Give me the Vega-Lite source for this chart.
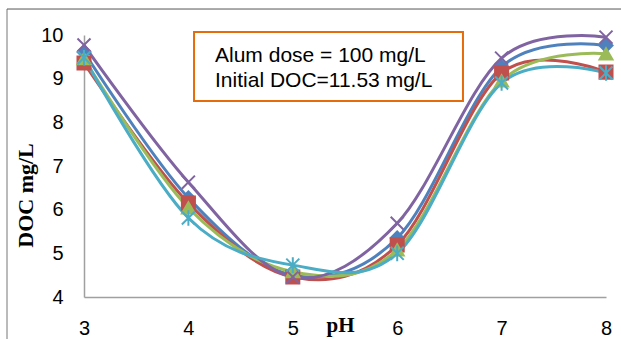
{
  "$schema": "https://vega.github.io/schema/vega-lite/v6.json",
  "width": 522,
  "height": 262,
  "autosize": {"type": "none"},
  "padding": {"left": 84, "top": 35, "right": 15, "bottom": 42},
  "background": "white",
  "config": {"view": {"stroke": null}, "font": "Liberation Sans"},
  "datasets": {
    "doc": [
      {"series": "Series1", "pH": 3, "doc": 9.61},
      {"series": "Series1", "pH": 4, "doc": 6.27},
      {"series": "Series1", "pH": 5, "doc": 4.50},
      {"series": "Series1", "pH": 6, "doc": 5.35},
      {"series": "Series1", "pH": 7, "doc": 9.27},
      {"series": "Series1", "pH": 8, "doc": 9.76},
      {"series": "Series2", "pH": 3, "doc": 9.36},
      {"series": "Series2", "pH": 4, "doc": 6.15},
      {"series": "Series2", "pH": 5, "doc": 4.46},
      {"series": "Series2", "pH": 6, "doc": 5.19},
      {"series": "Series2", "pH": 7, "doc": 9.13},
      {"series": "Series2", "pH": 8, "doc": 9.15},
      {"series": "Series3", "pH": 3, "doc": 9.46},
      {"series": "Series3", "pH": 4, "doc": 6.04},
      {"series": "Series3", "pH": 5, "doc": 4.58},
      {"series": "Series3", "pH": 6, "doc": 5.08},
      {"series": "Series3", "pH": 7, "doc": 8.95},
      {"series": "Series3", "pH": 8, "doc": 9.57},
      {"series": "Series4", "pH": 3, "doc": 9.77},
      {"series": "Series4", "pH": 4, "doc": 6.63},
      {"series": "Series4", "pH": 5, "doc": 4.46},
      {"series": "Series4", "pH": 6, "doc": 5.69},
      {"series": "Series4", "pH": 7, "doc": 9.47},
      {"series": "Series4", "pH": 8, "doc": 9.95},
      {"series": "Series5", "pH": 3, "doc": 9.48},
      {"series": "Series5", "pH": 4, "doc": 5.81},
      {"series": "Series5", "pH": 5, "doc": 4.73},
      {"series": "Series5", "pH": 6, "doc": 5.00},
      {"series": "Series5", "pH": 7, "doc": 8.90},
      {"series": "Series5", "pH": 8, "doc": 9.13}
    ],
    "box": [
      {"x1": 4.054, "x2": 6.63, "y1": 10.07, "y2": 8.49}
    ],
    "notes": [
      {"x": 4.255, "y": 9.38, "label": "Alum dose = 100 mg/L"},
      {"x": 4.255, "y": 8.81, "label": "Initial DOC=11.53 mg/L"}
    ],
    "frame": [{}]
  },
  "layer": [
    {
      "data": {"name": "frame"},
      "mark": {"type": "rule", "color": "#777777", "strokeWidth": 1},
      "encoding": {
        "x": {"datum": 2.2625, "type": "quantitative"},
        "y": {"datum": 10.595, "type": "quantitative"},
        "y2": {"datum": 3.0}
      }
    },
    {
      "data": {"name": "frame"},
      "mark": {"type": "rule", "color": "#555555", "strokeWidth": 1},
      "encoding": {
        "x": {"datum": 2.2625, "type": "quantitative"},
        "x2": {"datum": 8.2},
        "y": {"datum": 10.595, "type": "quantitative"}
      }
    },
    {
      "data": {"name": "doc"},
      "mark": {"type": "line", "interpolate": "cardinal", "strokeWidth": 3},
      "encoding": {
        "x": {
          "field": "pH", "type": "quantitative",
          "scale": {"domain": [3, 8], "nice": false, "zero": false},
          "axis": {
            "title": "pH", "values": [3, 4, 5, 6, 7, 8], "format": "d",
            "ticks": false, "grid": false,
            "domainColor": "#a0a0a0", "domainWidth": 1.5,
            "labelFont": "Liberation Sans", "labelFontSize": 20, "labelColor": "#000000",
            "labelPadding": 21, "labelFlush": false,
            "titleFont": "Liberation Serif", "titleFontSize": 21, "titleFontWeight": "bold",
            "titleColor": "#000000", "titleX": 256, "titleY": 28,
            "titleBaseline": "middle", "titleAlign": "center"
          }
        },
        "y": {
          "field": "doc", "type": "quantitative",
          "scale": {"domain": [4, 10], "nice": false, "zero": false},
          "axis": {
            "title": "DOC mg/L", "values": [4, 5, 6, 7, 8, 9, 10],
            "ticks": false, "grid": false,
            "domainColor": "#a0a0a0", "domainWidth": 1.5,
            "labelFont": "Liberation Sans", "labelFontSize": 20, "labelColor": "#000000",
            "labelPadding": 21,
            "titleFont": "Liberation Serif", "titleFontSize": 22, "titleFontWeight": "bold",
            "titleColor": "#000000", "titleX": -59, "titleY": 160,
            "titleBaseline": "middle", "titleAlign": "center"
          }
        },
        "color": {
          "field": "series", "type": "nominal",
          "scale": {
            "domain": ["Series1", "Series2", "Series3", "Series4", "Series5"],
            "range": ["#4F81BD", "#C0504D", "#9BBB59", "#8064A2", "#4BACC6"]
          },
          "legend": null
        }
      }
    },
    {
      "data": {"name": "doc"},
      "mark": {"type": "point", "filled": true, "opacity": 1, "size": 170, "strokeWidth": 2},
      "encoding": {
        "x": {"field": "pH", "type": "quantitative"},
        "y": {"field": "doc", "type": "quantitative"},
        "color": {"field": "series", "type": "nominal", "legend": null},
        "stroke": {
          "field": "series", "type": "nominal",
          "scale": {
            "domain": ["Series1", "Series2", "Series3", "Series4", "Series5"],
            "range": ["#4F81BD", "#C0504D", "#9BBB59", "#8064A2", "#4BACC6"]
          },
          "legend": null
        },
        "shape": {
          "field": "series", "type": "nominal",
          "scale": {
            "domain": ["Series1", "Series2", "Series3", "Series4", "Series5"],
            "range": ["diamond", "square", "triangle-up", "M-1,-1L1,1M-1,1L1,-1", "M-1,-1L1,1M-1,1L1,-1M0,-1.2L0,1.2"]
          },
          "legend": null
        }
      }
    },
    {
      "data": {"name": "box"},
      "mark": {"type": "rect", "fill": "white", "stroke": "#E46C0A", "strokeWidth": 2},
      "encoding": {
        "x": {"field": "x1", "type": "quantitative"},
        "x2": {"field": "x2"},
        "y": {"field": "y1", "type": "quantitative"},
        "y2": {"field": "y2"}
      }
    },
    {
      "data": {"name": "notes"},
      "mark": {"type": "text", "align": "left", "baseline": "alphabetic", "font": "Liberation Sans", "fontSize": 21, "color": "#000000"},
      "encoding": {
        "x": {"field": "x", "type": "quantitative"},
        "y": {"field": "y", "type": "quantitative"},
        "text": {"field": "label"}
      }
    }
  ]
}
